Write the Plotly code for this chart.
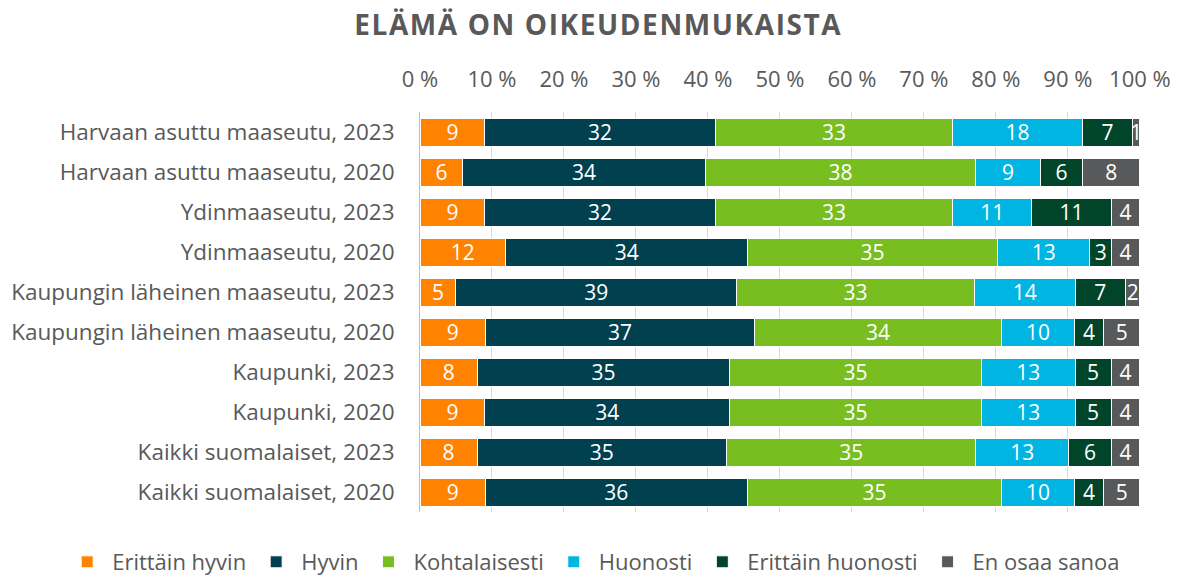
import plotly.graph_objects as go

# Survey groups (top to bottom)
groups = [
    "Harvaan asuttu maaseutu, 2023",
    "Harvaan asuttu maaseutu, 2020",
    "Ydinmaaseutu, 2023",
    "Ydinmaaseutu, 2020",
    "Kaupungin läheinen maaseutu, 2023",
    "Kaupungin läheinen maaseutu, 2020",
    "Kaupunki, 2023",
    "Kaupunki, 2020",
    "Kaikki suomalaiset, 2023",
    "Kaikki suomalaiset, 2020",
]

# Answer shares (%) per group
erittain_hyvin = [9, 6, 9, 12, 5, 9, 8, 9, 8, 9]
hyvin = [32, 34, 32, 34, 39, 37, 35, 34, 35, 36]
kohtalaisesti = [33, 38, 33, 35, 33, 34, 35, 35, 35, 35]
huonosti = [18, 9, 11, 13, 14, 10, 13, 13, 13, 10]
erittain_huonosti = [7, 6, 11, 3, 7, 4, 5, 5, 6, 4]
en_osaa_sanoa = [1, 8, 4, 4, 2, 5, 4, 4, 4, 5]

series = [
    ("Erittäin hyvin", erittain_hyvin, "#FF8200"),
    ("Hyvin", hyvin, "#00404F"),
    ("Kohtalaisesti", kohtalaisesti, "#78BE20"),
    ("Huonosti", huonosti, "#00B5E2"),
    ("Erittäin huonosti", erittain_huonosti, "#00452A"),
    ("En osaa sanoa", en_osaa_sanoa, "#58595B"),
]

tick_vals = list(range(0, 101, 10))
tick_text = [f"{v} %" for v in tick_vals]

FONT = "Open Sans"
GREY = "#595959"

fig = go.Figure()
for name, vals, color in series:
    fig.add_trace(go.Bar(
        name=name,
        y=groups,
        x=vals,
        orientation="h",
        marker=dict(color=color, line=dict(color="white", width=1)),
        text=vals,
        texttemplate="%{text}",
        textposition="inside",
        insidetextanchor="middle",
        textangle=0,
        textfont=dict(color="white", size=21, family=FONT),
        cliponaxis=False,
    ))

fig.update_layout(
    barmode="stack",
    barnorm="percent",
    bargap=0.3,
    width=1180,
    height=578,
    margin=dict(l=420, r=40, t=112, b=66, autoexpand=False),
    paper_bgcolor="white",
    plot_bgcolor="white",
    font=dict(family=FONT, color=GREY, size=22),
    uniformtext=dict(minsize=21, mode="show"),
    title=dict(
        text='<span style="letter-spacing:1.6px"><b>ELÄMÄ ON OIKEUDENMUKAISTA</b></span>',
        x=0.507, xanchor="center",
        y=0.957, yanchor="middle",
        font=dict(family=FONT, size=28, color=GREY),
    ),
    xaxis=dict(
        side="top",
        range=[0, 100.02],
        tickvals=tick_vals,
        ticktext=tick_text,
        showgrid=True,
        gridcolor="#D9D9D9",
        gridwidth=1,
        zeroline=False,
        showline=False,
        ticks="",
        ticklabelstandoff=20,
        tickfont=dict(size=22, color=GREY),
        fixedrange=True,
    ),
    yaxis=dict(
        autorange="reversed",
        showline=True,
        linecolor="#BFBFBF",
        linewidth=1,
        ticks="",
        ticklabelstandoff=20,
        tickfont=dict(size=22.5, color=GREY),
        fixedrange=True,
    ),
    # anchored left of the plot area and below it, so the legend may use
    # the full width of the figure in a single row
    legend=dict(
        orientation="h",
        x=-0.497, xanchor="left",
        y=-0.125, yanchor="middle",
        font=dict(size=22, color=GREY),
        traceorder="normal",
        itemwidth=40,
    ),
    showlegend=True,
)

fig.write_html("out.html")
